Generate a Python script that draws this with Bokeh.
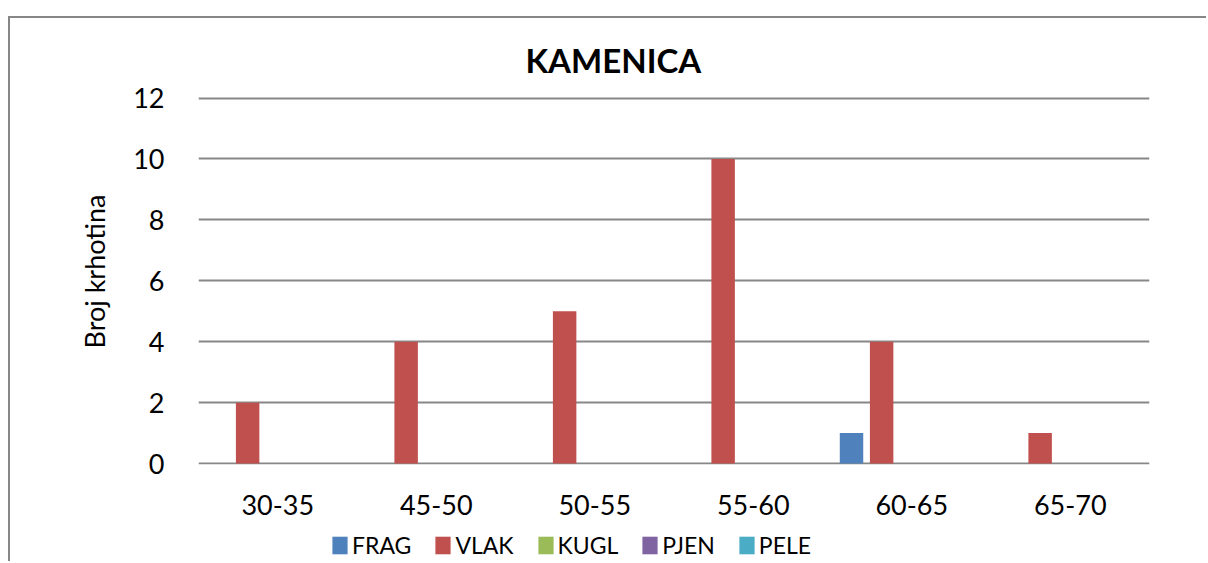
from bokeh.plotting import figure
from bokeh.models import (ColumnDataSource, Legend, LegendItem,
                          Title, FactorRange, Range1d, FixedTicker)
from bokeh.layouts import column
from bokeh.transform import dodge
from bokeh.embed import file_html
from bokeh.resources import INLINE

# ---- data ----
categories = ["30-35", "45-50", "50-55", "55-60", "60-65", "65-70"]
series_names = ["FRAG", "VLAK", "KUGL", "PJEN", "PELE"]
frag = [0, 0, 0, 0, 1, 0]
vlak = [2, 4, 5, 10, 4, 1]
kugl = [0, 0, 0, 0, 0, 0]
pjen = [0, 0, 0, 0, 0, 0]
pele = [0, 0, 0, 0, 0, 0]
y_ticks = [0, 2, 4, 6, 8, 10, 12]
title_text = "KAMENICA"
y_label = "Broj krhotina"

colors = ["#4F81BD", "#C0504D", "#9BBB59", "#8064A2", "#4BACC6"]
FONT = "Lato"

source = ColumnDataSource(dict(cat=categories, FRAG=frag, VLAK=vlak,
                               KUGL=kugl, PJEN=pjen, PELE=pele))

p = figure(width=1198, height=545, output_backend="svg", toolbar_location=None,
           x_range=FactorRange(factors=categories), y_range=Range1d(-0.03, 12.05),
           min_border_left=188, min_border_right=59, min_border_top=78,
           min_border_bottom=99)
p.outline_line_color = None
p.background_fill_color = "white"
p.border_fill_color = "white"
# chart frame drawn as CSS border of the figure element
p.styles = {"margin-left": "8px", "margin-top": "16px",
            "border-left": "2px solid #878787", "border-top": "2px solid #878787"}

pitch = 0.19
width = 0.148
offsets = [-2 * pitch, -pitch, 0, pitch, 2 * pitch]
for name, col, off in zip(series_names, colors, offsets):
    p.vbar(x=dodge("cat", off, range=p.x_range), top=name, bottom=0,
           width=width, source=source, fill_color=col, line_color=None)

# grid
p.xgrid.visible = False
p.ygrid.ticker = FixedTicker(ticks=y_ticks)
p.ygrid.grid_line_color = "#878787"
p.ygrid.grid_line_width = 2

# axes
p.yaxis.ticker = FixedTicker(ticks=y_ticks)
p.yaxis.axis_line_color = None
p.yaxis.major_tick_line_color = None
p.yaxis.minor_tick_line_color = None
p.yaxis.major_label_standoff = 28
p.yaxis.major_label_text_font = FONT
p.yaxis.major_label_text_font_size = "27px"
p.yaxis.major_label_text_color = "black"

p.xaxis.axis_line_color = None
p.xaxis.major_tick_line_color = None
p.xaxis.minor_tick_line_color = None
p.xaxis.major_label_standoff = 24
p.xaxis.major_label_text_font = FONT
p.xaxis.major_label_text_font_size = "27px"
p.xaxis.major_label_text_color = "black"

# y-axis title (as a side title so it can sit slightly above the frame centre)
yt = Title(text=y_label, align="left", offset=116, standoff=40,
           text_font=FONT, text_font_size="27px", text_font_style="normal",
           text_color="black")
p.add_layout(yt, "left")

# title
t = Title(text=title_text, align="left", offset=327, standoff=33,
          text_font=FONT, text_font_size="33px", text_font_style="bold",
          text_color="black")
p.add_layout(t, "above")

# legend: a small transparent figure laid over the bottom of the chart
# (the column aligns its frame with the main plot's frame: 188px left, 59px right)
q = figure(width=760, height=32, output_backend="svg", toolbar_location=None,
           x_range=(0, 1), y_range=(0, 1), min_border=0,
           x_axis_location=None, y_axis_location=None)
q.grid.visible = False
q.outline_line_color = None
q.background_fill_alpha = 0
q.border_fill_alpha = 0
q.styles = {"position": "absolute", "left": "142px", "top": "531px"}
leg_renderers = [q.vbar(x=[0], top=[0], bottom=[0], width=0, fill_color=c,
                        line_color=None) for c in colors]
items = [LegendItem(label=n, renderers=[r]) for n, r in zip(series_names, leg_renderers)]
legend = Legend(items=items, orientation="horizontal", location="top_left",
                glyph_width=19, glyph_height=22, label_standoff=3, spacing=22,
                padding=0, margin=0, border_line_color=None,
                background_fill_alpha=0, label_text_font=FONT,
                label_text_font_size="23px", label_text_color="black")
q.add_layout(legend, "center")

layout = column(p, q)
open("out.html", "w").write(file_html(layout, INLINE))
